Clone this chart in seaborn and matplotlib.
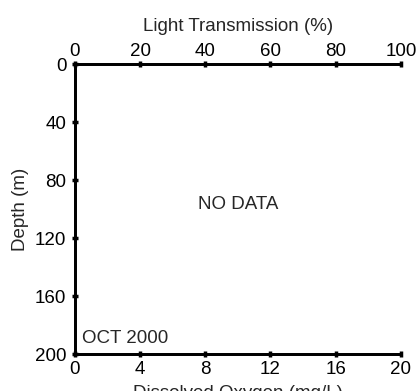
import numpy as np
import matplotlib
matplotlib.use("Agg")
import matplotlib.pyplot as plt
import seaborn as sns

# axis ranges and ticks (no profile data for this month)
depth_ticks = [0, 40, 80, 120, 160, 200]
oxygen_ticks = [0, 4, 8, 12, 16, 20]
light_ticks = [0, 20, 40, 60, 80, 100]
depth = []
oxygen = []
note = "NO DATA"
month = "OCT 2000"

sns.set_style("ticks")
plt.rcParams['font.family'] = ['Liberation Sans', 'DejaVu Sans']
fs = 13.5

fig = plt.figure(figsize=(4.18, 3.91), dpi=100)
ax = fig.add_axes([0.179, 0.0946, 0.78, 0.741])

sns.lineplot(x=oxygen, y=depth, ax=ax, color="black")
ax.set_xlim(oxygen_ticks[0], oxygen_ticks[-1])
ax.set_ylim(depth_ticks[-1], depth_ticks[0])
ax.set_xticks(oxygen_ticks)
ax.set_yticks(depth_ticks)
ax.set_xlabel("Dissolved Oxygen (mg/L)", fontsize=fs, labelpad=5)
ax.set_ylabel("Depth (m)", fontsize=fs, labelpad=4)

ax2 = ax.twiny()
ax2.set_xlim(light_ticks[0], light_ticks[-1])
ax2.set_xticks(light_ticks)
ax2.set_xlabel("Light Transmission (%)", fontsize=fs, labelpad=9)

for a in (ax, ax2):
    for s in a.spines.values():
        s.set_linewidth(2)
        s.set_color("black")
    a.spines["right"].set_visible(False)
    a.tick_params(direction="inout", length=4, width=2.5, colors="black", labelsize=fs)
ax.tick_params(axis="x", pad=3)
ax.tick_params(axis="y", pad=4)
ax2.tick_params(axis="x", pad=1)

ax.text(10, 97, note, ha="center", va="center", fontsize=fs)
ax.text(0.45, 189, month, ha="left", va="center", fontsize=fs)

fig.savefig("out.png", dpi=100)
